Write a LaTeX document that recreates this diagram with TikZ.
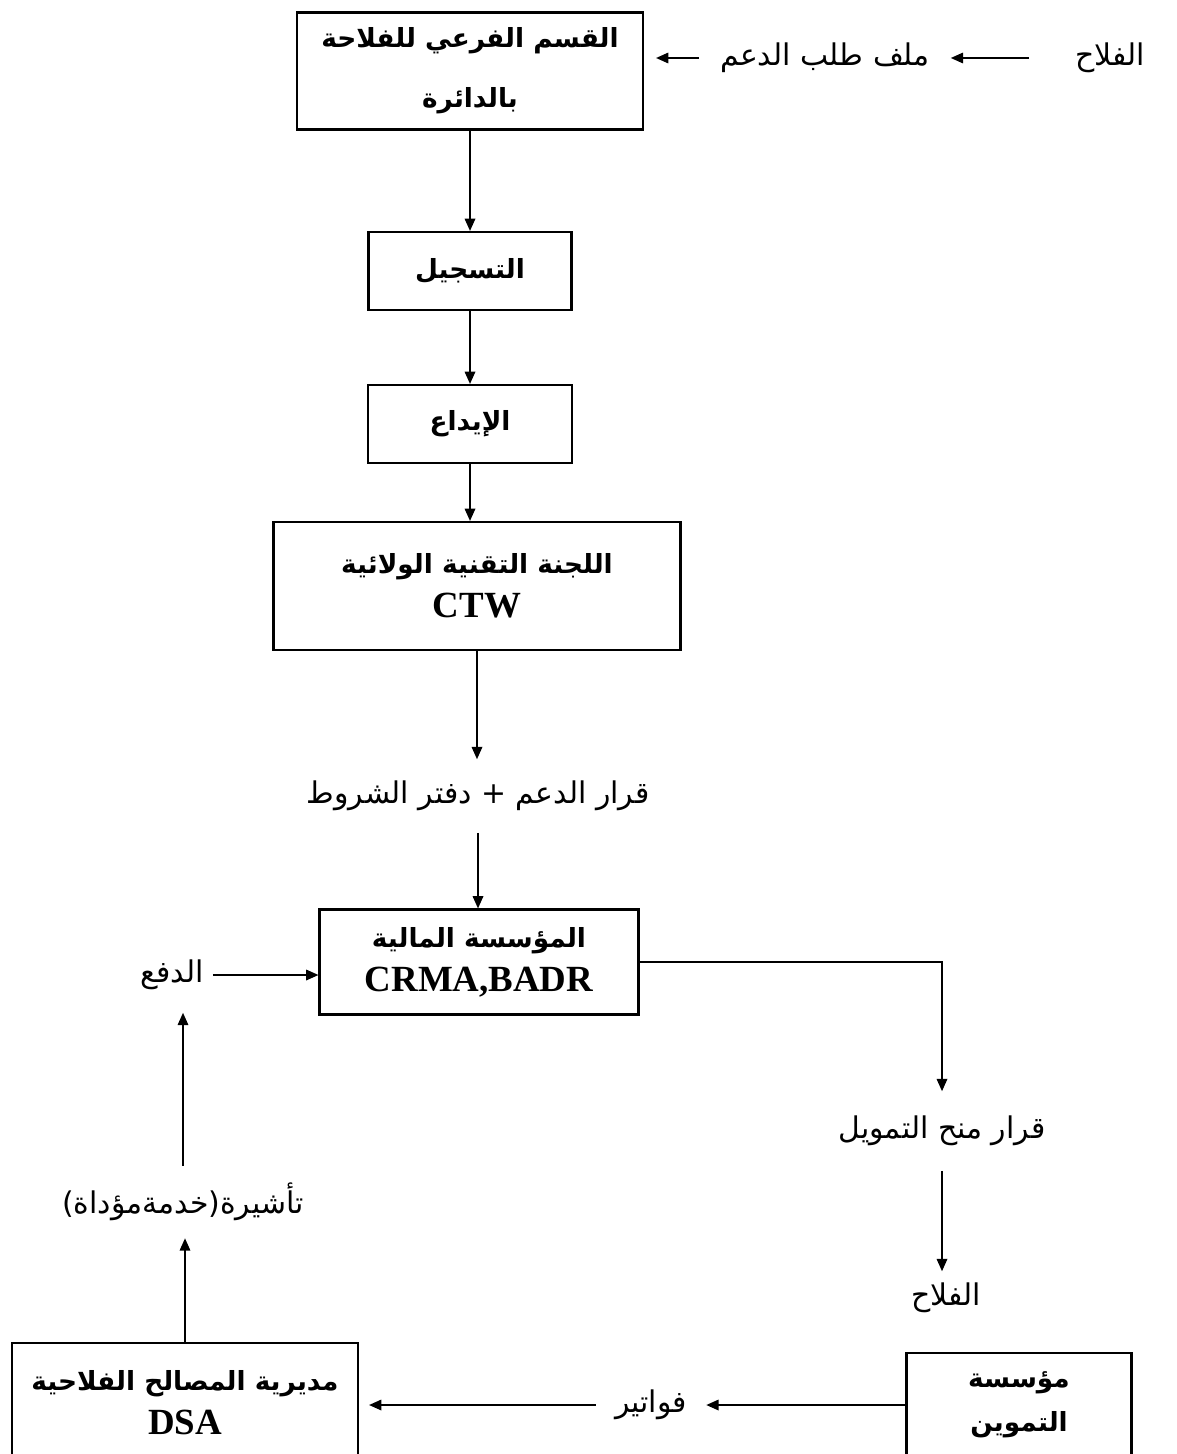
\documentclass[tikz,border=0pt]{standalone}
\usepackage{fontspec}
\setmainfont{Liberation Serif}
\newfontfamily\arabicfont[Script=Arabic]{DejaVu Sans}
\TeXXeTstate=1
\usetikzlibrary{arrows.meta, positioning}
\newcommand{\artxt}[1]{\beginR #1\endR}
\newcommand{\lat}[1]{{\rmfamily\bfseries\fontsize{21}{24}\selectfont #1}}
\tikzset{
  every picture/.style={line width=0.9pt},
  box/.style={draw, line width=1.2pt, align=center, inner sep=0pt, font=\arabicfont\bfseries\fontsize{15}{25}\selectfont},
  lbl/.style={inner sep=0pt, align=center, font=\arabicfont\fontsize{17}{20}\selectfont},
  arrow/.style={-{Triangle[length=7pt, width=6pt]}, line width=0.9pt},
}

\begin{document}
\begin{tikzpicture}[x=0.2mm, y=-0.2mm]
  \useasboundingbox (0,0) rectangle (1177,1454);
  % boxes
  \node[box, minimum width=69.2mm, minimum height=23.4mm] (qism) at (470,71) {\artxt{القسم الفرعي للفلاحة}\\[9pt]\artxt{بالدائرة}};
  \node[box, minimum width=40.6mm, minimum height=15.6mm] (tasjil) at (470,271) {\artxt{التسجيل}};
  \node[box, minimum width=40.8mm, minimum height=15.6mm] (idaa) at (470,424) {\artxt{الإيداع}};
  \node[box, minimum width=81.4mm, minimum height=25.6mm] (ctw) at (477,586) {\artxt{اللجنة التقنية الولائية}\\\lat{CTW}};
  \node[box, minimum width=63.8mm, minimum height=21mm] (bank) at (479,962) {\artxt{المؤسسة المالية}\\\lat{CRMA,BADR}};
  \node[box, minimum width=69.2mm, minimum height=24mm] (dsa) at (185,1403) {\artxt{مديرية المصالح الفلاحية}\\\lat{DSA}};
  \node[box, minimum width=45mm, minimum height=20.8mm] (tamwin) at (1019,1405) {\artxt{مؤسسة}\\\artxt{التموين}};
  % labels
  \node[lbl, minimum width=32mm] (fellah) at (1110,58) {\artxt{الفلاح}};
  \node[lbl, minimum width=50mm] (dossier) at (825,58) {\artxt{ملف طلب الدعم}};
  \node[lbl, minimum height=14.4mm] (decision) at (478,796) {\artxt{قرار الدعم + دفتر الشروط}};
  \node[lbl, minimum width=16mm, minimum height=14.8mm] (payment) at (172,975) {\artxt{الدفع}};
  \node[lbl, minimum height=14.2mm] (visa) at (183,1202) {\artxt{تأشيرة(خدمةمؤداة)}};
  \node[lbl, minimum height=15.6mm] (funding) at (942,1131) {\artxt{قرار منح التمويل}};
  \node[lbl, minimum height=10.4mm] (fellahb) at (946,1298) {\artxt{الفلاح}};
  \node[lbl, minimum width=21.8mm] (invoices) at (651,1405) {\artxt{فواتير}};
  % connectors
  \draw[arrow] (fellah) -- (dossier);
  \draw[arrow, shorten >=2.4mm] (dossier.west) -- (dossier.west -| qism.east);
  \draw[arrow] (qism) -- (tasjil);
  \draw[arrow] (tasjil) -- (idaa);
  \draw[arrow] (idaa.south) -- (idaa.south |- ctw.north);
  \draw[arrow] (ctw.south) -- (ctw.south |- decision.north);
  \draw[arrow] (decision.south) -- (decision.south |- bank.north);
  \draw[arrow] (bank.east) -| (funding.north);
  \draw[arrow] (funding.south) -- (funding.south |- fellahb.north);
  \draw[arrow] (tamwin.west) -- (invoices.east);
  \draw[arrow, shorten >=2mm] (invoices.west) -- (invoices.west -| dsa.east);
  \draw[arrow] (dsa.north) -- (dsa.north |- visa.south);
  \draw[arrow] (visa.north) -- (visa.north |- payment.south);
  \draw[arrow] (payment.east) -- (payment.east -| bank.west);
\end{tikzpicture}
\end{document}
